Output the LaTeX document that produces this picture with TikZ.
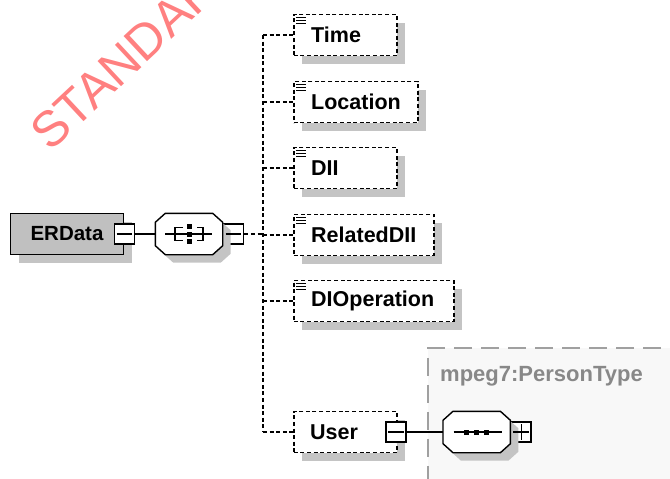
\documentclass[tikz,border=0pt]{standalone}
\usepackage{fontspec}
\setmainfont{Liberation Sans}
\usetikzlibrary{positioning,shadows}
\definecolor{shadowgray}{HTML}{C4C4C4}
\definecolor{topgray}{HTML}{C0C0C0}
\definecolor{typefill}{HTML}{F8F8F8}
\definecolor{typeline}{HTML}{A0A0A0}
\definecolor{typetext}{HTML}{888888}
\definecolor{markred}{HTML}{FF8080}

\begin{document}
\begin{tikzpicture}[x=1pt, y=-1pt]
    \tikzstyle{shade}=[drop shadow={shadow xshift=8pt, shadow yshift=-8pt, fill=shadowgray, opacity=1}]
    \tikzstyle{topelem}=[rectangle, draw, fill=topgray, line width=1.8pt, minimum width=113pt, minimum height=41pt, inner sep=0pt, shade, font=\bfseries\fontsize{20.5}{24}\selectfont]
    \tikzstyle{elem}=[rectangle, draw, fill=white, dash pattern=on 4pt off 2.6pt, line width=1.7pt, minimum height=41pt, inner sep=0pt, anchor=west, shade]
    \tikzstyle{elemtext}=[inner sep=0pt, anchor=west, font=\bfseries\fontsize{21.5}{24}\selectfont]
    \tikzstyle{toggle}=[rectangle, draw, fill=white, line width=1.6pt, minimum size=20pt, inner sep=0pt]
    \tikzstyle{compositor}=[rectangle, minimum width=67pt, minimum height=41pt, inner sep=0pt]
    \tikzstyle{typebox}=[rectangle, draw=typeline, fill=typefill, line width=1.6pt, dash pattern=on 18pt off 9pt, anchor=north west, minimum width=300pt, minimum height=200pt]
    \tikzstyle{link}=[line width=1.4pt]
    \tikzstyle{dlink}=[line width=1.6pt, dash pattern=on 4pt off 2.6pt]
    \tikzset{octpath/.style={insert path={
        ([xshift=10pt]#1.north west) -- ([xshift=-10pt]#1.north east) -- ([yshift=-9pt]#1.north east)
        -- ([yshift=9pt]#1.south east) -- ([xshift=-10pt]#1.south east) -- ([xshift=10pt]#1.south west)
        -- ([yshift=9pt]#1.south west) -- ([yshift=-9pt]#1.north west) -- cycle}}}

    \useasboundingbox (0,0) rectangle (670,479);
    \clip (0,0) rectangle (670,479);

    % watermark
    \node[markred, rotate=43, anchor=base west, inner sep=0pt, font=\fontsize{50}{52}\selectfont] (mark) at (50,153) {STANDARD};

    % type of User
    \node[typebox] (persontype) at (427,347) {};
    \node[anchor=base west, inner sep=0pt, typetext, font=\bfseries\fontsize{22}{24}\selectfont] (typename) at (440,381) {mpeg7:PersonType};

    % root
    \node[topelem] (erdata) at (67,234) {ERData};
    \node[toggle] (ermin) at (erdata.east) {};
    \node[compositor] (allgrp) at (189,234) {};
    \node[toggle, anchor=west] (allmin) at (allgrp.east) {};
    \coordinate (trunk) at (263,234);

    % children
    \foreach \nm/\txt/\w/\y in {time/Time/103/35, location/Location/124/102, dii/DII/103/168, related/RelatedDII/140/235, dlop/DIOperation/160/301} {
        \node[elem, minimum width=\w pt] (\nm) at (293,\y) {};
        \node[elemtext] at ([xshift=18pt]\nm.west) {\txt};
        \foreach \k in {4,7,10}
            \draw[link] ([xshift=3pt, yshift=-\k pt]\nm.north west) -- ++(10,0);
        \draw[dlink] (trunk |- \nm.west) -- (\nm.west);
    }
    \node[elem, minimum width=103pt] (user) at (293,432) {};
    \node[elemtext] at ([xshift=17pt]user.west) {User};
    \node[toggle] (usermin) at ([xshift=-1.5pt]user.east) {};
    \node[compositor, right=36pt of usermin] (seqgrp) {};
    \node[toggle, anchor=west] (seqplus) at (seqgrp.east) {};

    % compositors
    \foreach \o in {allgrp, seqgrp} {
        \fill[shadowgray, transform canvas={xshift=8pt, yshift=-8pt}, octpath=\o];
        \draw[link, fill=white, octpath=\o];
    }
    \begin{scope}[shift={(allgrp.center)}]
        \draw[link] (-24,0) -- (23,0);
        \draw[link] (-6,-6.5) -- (-14,-6.5) -- (-14,6.5) -- (-6,6.5);
        \draw[link] (8,-6.5) -- (14,-6.5) -- (14,6.5) -- (8,6.5);
        \foreach \d in {-7.5,0,7.5}
            \fill (-2,\d-2.5) rectangle (3,\d+2.5);
    \end{scope}
    \begin{scope}[shift={(seqgrp.center)}]
        \draw[link] (-23,0) -- (25,0);
        \foreach \d in {-10,0,10}
            \fill (\d-2.5,-2.5) rectangle (\d+2.5,2.5);
    \end{scope}

    % toggles
    \foreach \t in {ermin, allmin, usermin, seqplus}
        \draw[link] ([xshift=3pt]\t.west) -- ([xshift=-3pt]\t.east);
    \draw[link] ([yshift=-3pt]seqplus.north) -- ([yshift=3pt]seqplus.south);

    % connectors
    \draw[link] (ermin) -- (allgrp.west);
    \draw[dlink] (allmin) -- (trunk);
    \draw[dlink] (trunk |- time.west) -- (trunk |- user.west);
    \draw[dlink] (trunk |- user.west) -- (user.west);
    \draw[link] (usermin) -- (seqgrp.west);

\end{tikzpicture}
\end{document}
